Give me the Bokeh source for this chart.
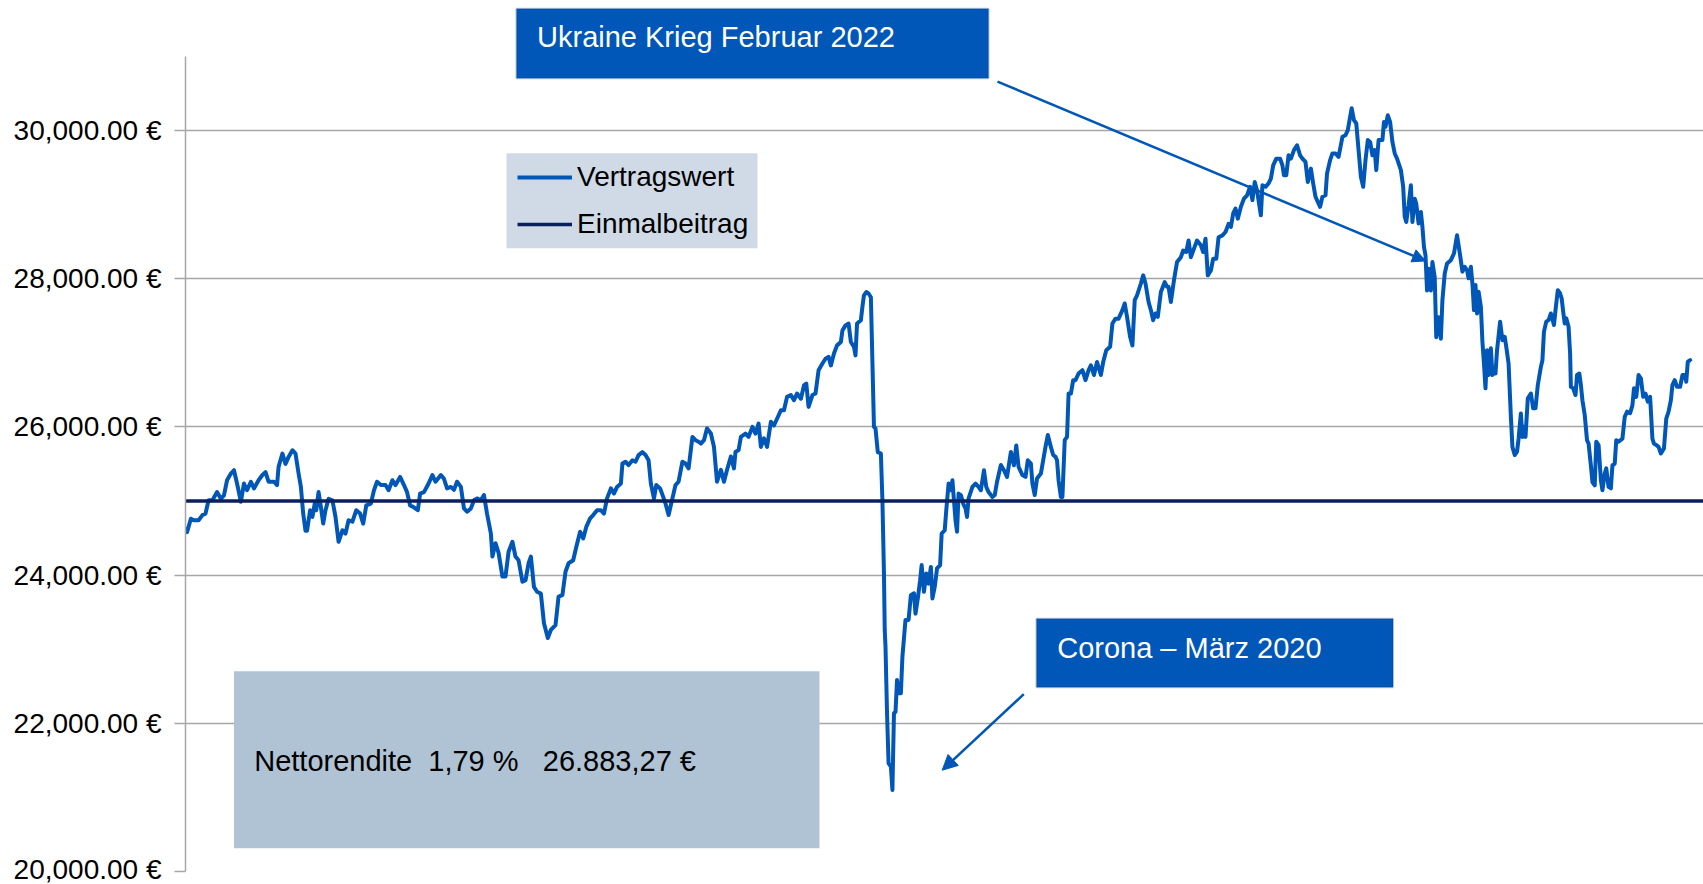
from bokeh.plotting import figure
from bokeh.models import (Range1d, FixedTicker, BoxAnnotation, Label, Arrow,
                          NormalHead, Legend, LegendItem)
from bokeh.embed import file_html
from bokeh.resources import INLINE

# ---------------- data ----------------
# days since 2017-09-10
tage = [
    0, 2, 7, 11, 17, 22, 26, 30, 35, 41, 46, 50, 54, 59, 63, 67, 72, 76, 80, 85,
    89, 95, 100, 104, 108, 115, 119, 121, 126, 130, 134, 139, 143, 147, 150, 153,
    156, 158, 162, 165, 168, 170, 173, 176, 179, 182, 186, 191, 195, 199, 204, 208,
    212, 217, 222, 227, 231, 235, 241, 245, 249, 254, 260, 264, 269, 273, 279, 284,
    288, 292, 296, 302, 305, 310, 315, 321, 325,
    332, 336, 340, 345, 349, 353, 358, 362, 366, 371, 375, 379, 384, 388, 392, 397,
    399, 403, 407, 412, 416, 420, 425, 429, 433, 438, 442, 446, 449, 453, 457, 462,
    466, 471, 475, 481, 485, 490, 494, 498, 504, 508, 513, 517, 521, 526, 530, 535,
    540, 544, 548, 553, 557, 561, 566, 568, 572, 576, 581, 585, 589, 594, 598, 602,
    605, 609, 612, 617, 621, 624, 628, 633, 637, 641, 646, 650, 654, 659, 663, 667,
    670, 674, 678, 683, 687, 691, 696, 700, 704, 709, 713, 715, 719, 722, 728, 732,
    737, 741, 745, 748, 752, 756, 761, 765, 769, 774, 778, 782, 787, 791, 795, 800,
    804, 807, 810, 815, 819, 823, 828, 832, 836, 839, 843, 847, 852, 854, 858, 862,
    865, 869, 871, 873, 878, 880, 882, 885, 888, 891,
    895, 897, 900, 904, 906, 908, 909, 910, 912, 914, 917, 919, 921, 923, 925, 927,
    930, 932, 936, 940, 943, 947, 949, 952, 955, 957, 960, 963, 966, 969, 971, 974,
    977, 981, 983, 987, 989, 992, 995, 997, 999, 1001, 1003, 1005, 1008, 1011, 1014,
    1016, 1018, 1023, 1027, 1031, 1034, 1038, 1041, 1044, 1049, 1052, 1055, 1060,
    1064, 1068, 1073, 1077, 1080, 1083, 1088, 1092, 1095, 1099, 1101, 1104, 1107,
    1112, 1115, 1118, 1121, 1125, 1128, 1131, 1133, 1135, 1138, 1140, 1143, 1146,
    1148, 1151, 1154, 1157, 1161, 1166, 1170, 1174, 1177, 1181, 1185, 1190, 1193,
    1197, 1202, 1205, 1209, 1213, 1218, 1221, 1224, 1228, 1231, 1234, 1237, 1242,
    1245, 1248, 1252, 1255, 1258, 1261, 1264, 1268, 1273, 1276, 1278, 1281, 1285,
    1289, 1294, 1297, 1301, 1304, 1307, 1311, 1315, 1320, 1323, 1326, 1329, 1333,
    1336, 1340, 1343, 1348, 1352, 1356,
    1359, 1362, 1365, 1368, 1372, 1376, 1380, 1384, 1387, 1390, 1393, 1398, 1400,
    1404, 1408, 1411, 1414, 1418, 1423, 1426, 1428, 1431, 1434, 1437, 1441, 1445,
    1449, 1452, 1456, 1459, 1463, 1466, 1469, 1472, 1475, 1478, 1482, 1484, 1488,
    1491, 1495, 1499, 1504, 1508, 1511, 1514, 1516, 1519, 1522, 1525, 1528, 1531,
    1534, 1537, 1540, 1543, 1546, 1548, 1551, 1556, 1558, 1560, 1563, 1566, 1569,
    1572, 1575, 1580, 1583, 1585, 1587, 1590, 1593, 1595, 1598, 1600, 1603, 1606,
    1608, 1610, 1612, 1614, 1616, 1619, 1621, 1624, 1626, 1629, 1632,
    1634, 1637, 1640, 1645, 1649, 1653, 1657, 1660, 1663, 1666, 1668, 1671, 1673,
    1675, 1677, 1679, 1681, 1684, 1686, 1688, 1690, 1692, 1694, 1697, 1699, 1701,
    1703, 1705, 1709, 1712, 1715, 1717, 1720, 1723, 1725, 1728, 1731, 1733, 1736,
    1738, 1740, 1742, 1745, 1749, 1752, 1755, 1758, 1762, 1764, 1766, 1769, 1772,
    1775, 1779, 1781, 1784, 1787, 1789, 1791, 1793, 1795, 1798, 1800, 1801, 1804,
    1807, 1809, 1812, 1814, 1816, 1819, 1822, 1824, 1827, 1829, 1832, 1834, 1837,
    1840, 1842, 1845, 1847, 1850, 1853, 1855, 1858, 1860, 1863, 1868, 1871, 1874,
    1878, 1881, 1883, 1886, 1889, 1892, 1895, 1898, 1901, 1904, 1907, 1909, 1912,
    1915, 1918, 1922, 1925, 1928, 1931, 1933, 1936, 1939, 1943, 1946, 1949, 1951,
    1953, 1956, 1957,
]

vertragswert = [
    24650, 24580, 24760, 24740, 24740, 24810, 24830, 25010, 25010, 25120, 25030,
    25075, 25280, 25370, 25415, 25235, 24990, 25235, 25145, 25260, 25170, 25280,
    25350, 25390, 25260, 25260, 25215, 25460, 25640, 25500, 25595, 25685, 25640,
    25370, 25190, 24830, 24600, 24600, 24875, 24785, 24965, 24875, 25120, 24920,
    24695, 24875, 25030, 25010, 24785, 24450, 24605, 24560, 24740, 24720, 24875,
    24830, 24695, 24940, 24965, 25145, 25260, 25215, 25215, 25145, 25280, 25215,
    25325, 25215, 25120, 24940, 24920, 24875, 25100, 25120, 25215, 25350, 25260,
    25350, 25300, 25170, 25190, 25150, 25260, 25190, 24900, 24855, 24900, 25010,
    25035, 25010, 25080, 24830, 24560, 24250, 24430, 24300, 23980, 23980, 24315,
    24450, 24250, 24200, 23910, 23930, 24160, 24250, 23840, 23775, 23750, 23350,
    23150, 23260, 23325, 23710, 23730, 24045, 24160, 24200, 24380, 24585, 24495,
    24650, 24765, 24810, 24875, 24875, 24830, 25035, 25170, 25100, 25190, 25235,
    25505, 25530, 25485, 25550, 25530, 25620, 25660, 25620, 25550, 25235, 25035,
    25215, 25170, 25055, 24965, 24810, 25035, 25215, 25260, 25530, 25505, 25440,
    25865, 25820, 25800,
    25775, 25820, 25980, 25910, 25730, 25260, 25420, 25260, 25420, 25600, 25440,
    25665, 25685, 25865, 25910, 25865, 26000, 25910, 26045, 25730, 25845, 25730,
    26070, 26020, 26110, 26225, 26225, 26405, 26430, 26360, 26450, 26380, 26560,
    26585, 26270, 26430, 26450, 26765, 26855, 26920, 26945, 26830, 26990, 27100,
    27145, 27300, 27370, 27395, 27145, 27080, 26965, 27395, 27440, 27620, 27775,
    27820, 27800, 27750,
    26000, 25980, 25660, 25640, 25010, 24020, 23260, 23035, 22135, 21460, 21415,
    21100, 22135, 22155, 22585, 22405, 22405, 22900, 23395, 23395, 23730, 23755,
    23480, 23685, 23930, 24135, 23775, 24020, 23885, 24110, 23685, 23840, 24090,
    24135, 24560, 24605, 24875, 25235, 25145, 25280, 25010, 24740, 24585, 25100,
    25080, 24965, 24900, 24785, 25035, 25190, 25235, 25190, 25145, 25415, 25190,
    25120, 25055, 25080, 25260, 25485,
    25415, 25325, 25660, 25483, 25750, 25460, 25350, 25325, 25550, 25505, 25235,
    25080, 25305, 25370, 25550, 25730, 25890, 25730, 25620, 25595, 25550, 25280,
    25055, 25055, 25820, 25865, 26450, 26450, 26630, 26630, 26720, 26765, 26630,
    26765, 26830, 26700, 26875, 26700, 26875, 27035, 27080, 27395, 27460, 27460,
    27575, 27665, 27485, 27215, 27100, 27710, 27775, 27935, 28045, 27935, 27685,
    27575, 27440, 27530, 27485, 27820, 27955, 27890, 27890, 27685, 27980, 28225,
    28290, 28380, 28360, 28515, 28290, 28405, 28515, 28450, 28360, 28540, 28045,
    28110, 28270, 28270, 28560, 28585, 28630, 28740,
    28700, 28880, 28945, 28810, 28970, 29080, 29125, 29240, 29060, 29305, 29190,
    28855, 29260, 29240, 29285, 29350, 29530, 29620, 29620, 29530, 29395, 29395,
    29665, 29620, 29735, 29800, 29665, 29620, 29575, 29305, 29485, 29285, 29105,
    29035, 28970, 29105, 29125, 29420, 29600, 29690, 29690, 29645, 29915, 29935,
    30005, 30185, 30300, 30140, 30095, 29735, 29375, 29240, 29600, 29870, 29845,
    29665, 29735, 29465, 29870, 29870, 30115, 30050, 30205, 30115, 29845, 29690,
    29620, 29465, 29240, 28835, 28765, 28990, 29260, 28765, 29080, 29010, 28745,
    28900, 28700, 28430, 28315, 27840, 28135, 27840, 28225, 28020, 27210, 27480,
    27190,
    27710, 28070, 28205, 28250, 28340, 28585, 28315, 28095, 28160, 28115, 28005,
    28160, 27935, 27575, 27915, 27530, 27825, 27620, 27150, 26855, 26520, 27035,
    26700, 27060, 26700, 26765, 26720, 27035, 27420, 27170, 27215, 27080, 26855,
    26135, 25730, 25620, 25665, 25840, 26180, 25865, 26000, 25865, 26385, 26450,
    26250, 26250, 26565, 26810, 26900, 27285, 27420, 27440, 27530, 27375, 27575,
    27845, 27800, 27735, 27555, 27395, 27465, 27350, 26990, 26540, 26520, 26430,
    26700, 26720, 26565, 26360, 26160, 25820, 25775, 25480, 25255, 25210, 25800,
    25755, 25280, 25145, 25370, 25440, 25190, 25170, 25480, 25505, 25820, 25800,
    25840, 26135, 26205, 26185, 26290, 26520, 26405, 26700, 26655, 26405, 26450,
    26340, 26405, 25840, 25775, 25755, 25730, 25640, 25710, 26110, 26205, 26360,
    26565, 26630, 26540, 26540, 26700, 26700, 26610, 26880, 26900, 26883,
]

einmalbeitrag = 25000
serien = ["Vertragswert", "Einmalbeitrag"]
y_ticks = [20000, 22000, 24000, 26000, 28000, 30000]
y_tick_labels = [f"{v:,.2f} €" for v in y_ticks]
ukraine_text = "Ukraine Krieg Februar 2022"
corona_text = "Corona – März 2020"
netto_text = "Nettorendite \u00a01,79 % \u00a0\u00a026.883,27 €"

# ---------------- style ----------------
BLUE = "#0057B8"
NAVY = "#0B1F5C"
GRID = "#A6A6A6"
FONT = "Liberation Sans"
X_END = 1973.4
Y_TOP = 31754

p = figure(width=1703, height=884,
           x_range=Range1d(0, X_END), y_range=Range1d(20000, Y_TOP),
           output_backend="svg", toolbar_location=None,
           x_axis_location=None,
           min_border_left=185, min_border_right=0,
           min_border_top=0, min_border_bottom=13)
p.outline_line_color = None
p.background_fill_color = "white"
p.border_fill_color = "white"
for g in p.xgrid:
    g.visible = False
    g.grid_line_color = None

ticker = FixedTicker(ticks=y_ticks)
ax = p.yaxis[0]
ax.ticker = ticker
ax.bounds = (20000, 31000)
ax.major_label_overrides = dict(zip(y_ticks, y_tick_labels))
ax.major_label_text_font = FONT
ax.major_label_text_font_size = "28px"
ax.major_label_text_color = "#000000"
ax.axis_line_color = GRID
ax.axis_line_width = 1.5
ax.major_tick_line_color = GRID
ax.major_tick_line_width = 1.5
ax.major_tick_out = 11
ax.major_tick_in = 0
ax.minor_tick_line_color = None
ax.major_label_standoff = 13

p.ygrid.ticker = ticker
p.ygrid.grid_line_color = GRID
p.ygrid.grid_line_width = 1.5

r_wert = p.line(tage, vertragswert, line_color=BLUE, line_width=4,
                line_join="round")
r_einmal = p.line([0, X_END], [einmalbeitrag, einmalbeitrag],
                  line_color=NAVY, line_width=3.5)

# legend background
p.add_layout(BoxAnnotation(left=417.3, right=743.6, top=29694, bottom=28412,
                           fill_color="#CFDAE6", fill_alpha=1, line_color=None))
legend = Legend(items=[LegendItem(label=serien[0], renderers=[r_wert]),
                       LegendItem(label=serien[1], renderers=[r_einmal])],
                location=(332, 629), orientation="vertical",
                background_fill_alpha=0, border_line_color=None,
                label_text_font=FONT, label_text_font_size="28px",
                label_text_color="#000000",
                glyph_width=55, glyph_height=36, label_height=36,
                label_standoff=5, spacing=11, padding=6, margin=0)
p.add_layout(legend)

# Nettorendite box
p.add_layout(BoxAnnotation(left=63, right=824.2, top=22703, bottom=20314,
                           fill_color="#B0C3D5", fill_alpha=1, line_color=None))
p.add_layout(Label(x=89.3, y=21493, text=netto_text, text_font=FONT,
                   text_font_size="29px", text_color="#000000",
                   text_baseline="middle", text_align="left"))

# Ukraine box
p.add_layout(BoxAnnotation(left=430.3, right=1043.9, top=31641, bottom=30706,
                           fill_color=BLUE, fill_alpha=1, line_color="#0B3E86",
                           line_width=2))
p.add_layout(Label(x=457, y=31268, text=ukraine_text, text_font=FONT,
                   text_font_size="29px", text_color="white",
                   text_baseline="middle", text_align="left"))

# Corona box
p.add_layout(BoxAnnotation(left=1106.3, right=1569.8, top=23412, bottom=22487,
                           fill_color=BLUE, fill_alpha=1, line_color="#0B3E86",
                           line_width=2))
p.add_layout(Label(x=1133.2, y=23016, text=corona_text, text_font=FONT,
                   text_font_size="29px", text_color="white",
                   text_baseline="middle", text_align="left"))

# arrows
p.add_layout(Arrow(end=NormalHead(size=13, fill_color=BLUE, line_color=BLUE),
                   x_start=1055.6, y_start=30659, x_end=1612, y_end=28240,
                   line_color=BLUE, line_width=2.5))
p.add_layout(Arrow(end=NormalHead(size=15, fill_color=BLUE, line_color=BLUE),
                   x_start=1089.8, y_start=22393, x_end=983.7, y_end=21367,
                   line_color=BLUE, line_width=2.5))

open("out.html", "w").write(file_html(p, INLINE))
